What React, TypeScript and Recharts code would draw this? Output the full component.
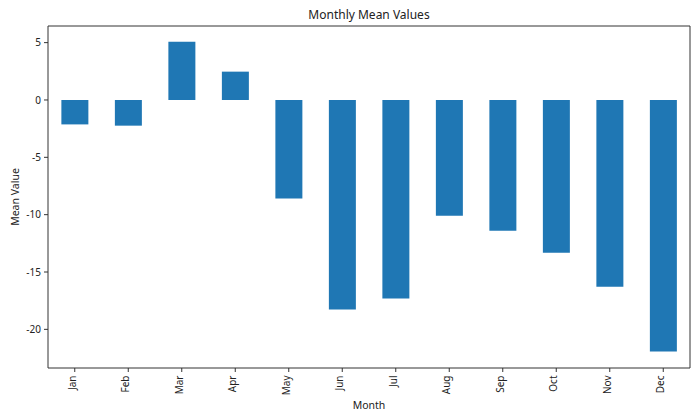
import { BarChart, Bar, XAxis, YAxis } from 'recharts';

const months = ['Jan', 'Feb', 'Mar', 'Apr', 'May', 'Jun', 'Jul', 'Aug', 'Sep', 'Oct', 'Nov', 'Dec'];
const meanValues = [-2.13, -2.24, 5.08, 2.47, -8.6, -18.28, -17.32, -10.09, -11.4, -13.32, -16.28, -21.94];
const yTicks = [-20, -15, -10, -5, 0, 5];

const data = months.map((m, i) => ({ month: m, mean: meanValues[i] }));

const font = '"Noto Sans", "DejaVu Sans", sans-serif';
const axisColor = '#333333';
const domain: [number, number] = [-23.37, 6.45];

export default function App() {
  return (
    <div style={{ position: 'absolute', left: 0, top: 0, width: 700, height: 420, background: '#fff', fontFamily: font }}>
      <div
        style={{
          position: 'absolute',
          top: 6,
          left: 48,
          width: 642,
          textAlign: 'center',
          fontSize: 12,
          color: '#222',
        }}
      >
        Monthly Mean Values
      </div>
      <BarChart
        width={700}
        height={420}
        data={data}
        margin={{ top: 25, right: 9, bottom: 0, left: 0 }}
        barCategoryGap="25%"
        style={{ fontFamily: font }}
      >
        <XAxis
          dataKey="month"
          height={52}
          interval={0}
          stroke={axisColor}
          tickSize={4}
          tickMargin={2}
          tick={{ fontSize: 10, fill: '#222', angle: -90, textAnchor: 'end', dy: 1.5, dx: -6 }}
          label={{ value: 'Month', position: 'insideBottom', offset: 11, fontSize: 10.5, fill: '#222' }}
        />
        <XAxis xAxisId="top" orientation="top" height={1} tick={false} tickLine={false} stroke={axisColor} />
        <YAxis
          width={48}
          domain={domain}
          ticks={yTicks}
          allowDataOverflow
          stroke={axisColor}
          tickSize={4}
          tickMargin={3}
          tick={{ fontSize: 10, fill: '#222' }}
          label={{ value: 'Mean Value', angle: -90, position: 'insideLeft', offset: 15, fontSize: 10.5, fill: '#222', style: { textAnchor: 'middle' } }}
        />
        <YAxis yAxisId="right" orientation="right" width={1} domain={domain} tick={false} tickLine={false} stroke={axisColor} />
        <Bar dataKey="mean" fill="#1f77b4" isAnimationActive={false} />
      </BarChart>
    </div>
  );
}
